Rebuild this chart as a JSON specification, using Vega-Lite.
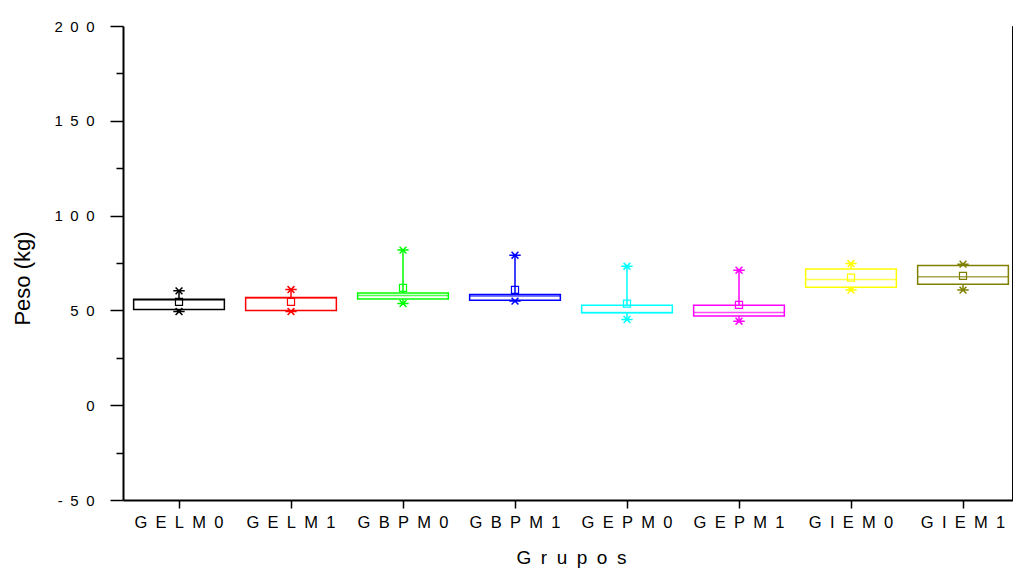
{
  "$schema": "https://vega.github.io/schema/vega-lite/v6.json",
  "autosize": {"type": "none"},
  "padding": {"left": 123, "top": 26, "right": 0, "bottom": 72},
  "width": 890,
  "height": 474,
  "background": "white",
  "config": {
    "view": {"stroke": null},
    "font": "Liberation Sans",
    "axis": {"grid": false, "labelFont": "Liberation Sans", "titleFont": "Liberation Sans", "labelColor": "black", "titleColor": "black", "titleFontWeight": "normal", "domainColor": "black", "tickColor": "black", "domainWidth": 2, "tickWidth": 1.5}
  },
  "data": {"values": [
    {"group": "GELM0", "min": 49.4, "q1": 50.5, "median": 55.5, "q3": 55.9, "max": 60.3, "mean": 54.5},
    {"group": "GELM1", "min": 49.4, "q1": 49.9, "median": 56.5, "q3": 56.8, "max": 61.0, "mean": 54.5},
    {"group": "GBPM0", "min": 53.6, "q1": 56.0, "median": 57.8, "q3": 59.2, "max": 81.8, "mean": 61.9},
    {"group": "GBPM1", "min": 54.9, "q1": 55.4, "median": 57.6, "q3": 58.4, "max": 79.1, "mean": 60.8},
    {"group": "GEPM0", "min": 45.2, "q1": 48.7, "median": 48.9, "q3": 52.7, "max": 73.3, "mean": 53.6},
    {"group": "GEPM1", "min": 44.3, "q1": 47.1, "median": 48.9, "q3": 52.7, "max": 71.2, "mean": 52.9},
    {"group": "GIEM0", "min": 60.7, "q1": 62.2, "median": 66.3, "q3": 71.9, "max": 74.7, "mean": 67.3},
    {"group": "GIEM1", "min": 60.7, "q1": 63.8, "median": 67.7, "q3": 73.7, "max": 74.4, "mean": 68.2}
  ]},
  "encoding": {
    "x": {
      "field": "group", "type": "nominal", "sort": null,
      "scale": {"paddingInner": 0, "paddingOuter": 0, "range": [0, 896]},
      "axis": {
        "title": "G\u2002r\u2002u\u2002p\u2002o\u2002s",
        "titleFontSize": 19,
        "titleY": 57, "titleBaseline": "middle",
        "labelAngle": 0, "labelFontSize": 16.5, "labelPadding": 6, "tickSize": 8,
        "labelExpr": "join(split(datum.label, ''), '\u2002')"
      }
    },
    "color": {
      "field": "group", "type": "nominal", "sort": null,
      "scale": {"domain": ["GELM0", "GELM1", "GBPM0", "GBPM1", "GEPM0", "GEPM1", "GIEM0", "GIEM1"],
                "range": ["#000000", "#FF0000", "#00FF00", "#0000FF", "#00FFFF", "#FF00FF", "#FFFF00", "#808000"]},
      "legend": null
    }
  },
  "layer": [
    {
      "mark": {"type": "rule", "strokeWidth": 1.5},
      "encoding": {
        "y": {"field": "q3", "type": "quantitative",
              "scale": {"domain": [-50, 200], "nice": false, "zero": false},
              "axis": {
                "title": "Peso (kg)", "titleFontSize": 22, "titleAngle": -90,
                "titleX": -101, "titleY": 252, "titleAlign": "center", "titleBaseline": "middle",
                "values": [-50, 0, 50, 100, 150, 200],
                "tickSize": 13, "labelPadding": 16, "labelFontSize": 15,
                "labelExpr": "join(split(replace(datum.label, '\u2212', '-'), ''), '\u2002')"
              }},
        "y2": {"field": "max"},
        "color": {"field": "group", "type": "nominal", "sort": null}
      }
    },
    {
      "mark": {"type": "rule", "strokeWidth": 1.5},
      "encoding": {
        "y": {"field": "min", "type": "quantitative"},
        "y2": {"field": "q1"},
        "color": {"field": "group", "type": "nominal", "sort": null}
      }
    },
    {
      "mark": {"type": "bar", "fill": "white", "fillOpacity": 0, "strokeWidth": 1.5, "width": {"band": 0.81}},
      "encoding": {
        "y": {"field": "q1", "type": "quantitative"},
        "y2": {"field": "q3"},
        "stroke": {"field": "group", "type": "nominal", "sort": null, "scale": {"domain": ["GELM0", "GELM1", "GBPM0", "GBPM1", "GEPM0", "GEPM1", "GIEM0", "GIEM1"],
                "range": ["#000000", "#FF0000", "#00FF00", "#0000FF", "#00FFFF", "#FF00FF", "#FFFF00", "#808000"]}, "legend": null},
        "color": {"value": null}
      }
    },
    {
      "mark": {"type": "tick", "thickness": 1.5, "size": 91},
      "encoding": {
        "y": {"field": "median", "type": "quantitative"},
        "color": {"field": "group", "type": "nominal", "sort": null}
      }
    },
    {
      "mark": {"type": "point", "shape": "square", "filled": false, "size": 50, "strokeWidth": 1.2, "opacity": 1},
      "encoding": {
        "y": {"field": "mean", "type": "quantitative"},
        "color": {"field": "group", "type": "nominal", "sort": null}
      }
    },
    {
      "mark": {"type": "point", "shape": "M-1,0L1,0M-0.6,-0.6L0.6,0.6M-0.6,0.6L0.6,-0.6", "filled": false, "size": 130, "strokeWidth": 1.5, "opacity": 1},
      "encoding": {
        "y": {"field": "max", "type": "quantitative"},
        "color": {"field": "group", "type": "nominal", "sort": null}
      }
    },
    {
      "mark": {"type": "point", "shape": "M-1,0L1,0M-0.6,-0.6L0.6,0.6M-0.6,0.6L0.6,-0.6", "filled": false, "size": 130, "strokeWidth": 1.5, "opacity": 1},
      "encoding": {
        "y": {"field": "min", "type": "quantitative"},
        "color": {"field": "group", "type": "nominal", "sort": null}
      }
    },
    {
      "data": {"values": [{"v": -25}]},
      "mark": {"type": "rule", "opacity": 0},
      "encoding": {
        "x": {"value": 0},
        "y": {"field": "v", "type": "quantitative",
              "axis": {"orient": "left", "values": [-25, 25, 75, 125, 175], "labels": false, "domain": false, "tickSize": 7, "title": null}},
        "color": {"value": "black"}
      }
    }
  ],
  "resolve": {"axis": {"y": "independent"}}
}
